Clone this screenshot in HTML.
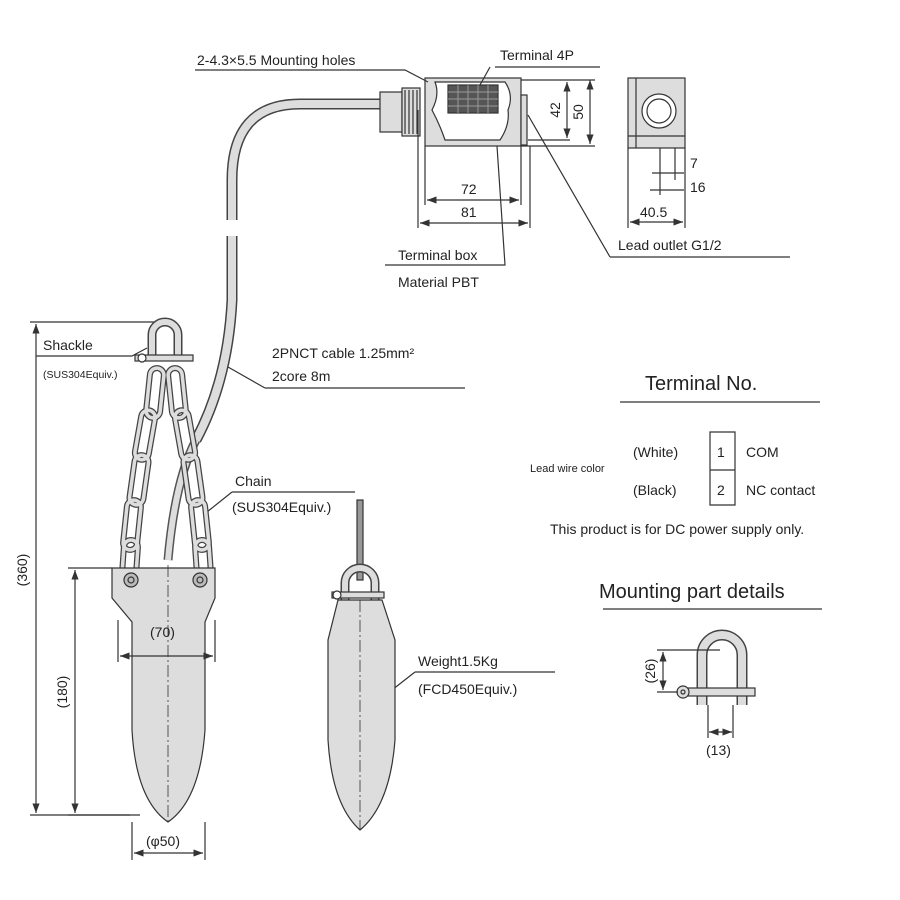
<!DOCTYPE html>
<html><head><meta charset="utf-8"><style>
html,body{margin:0;padding:0;background:#fff}
svg{display:block}
text{font-family:"Liberation Sans",sans-serif;fill:#222}
</style></head><body>
<svg width="900" height="900" viewBox="0 0 900 900" xmlns="http://www.w3.org/2000/svg">
<defs>
<marker id="a" markerWidth="8" markerHeight="6" refX="8" refY="3" orient="auto-start-reverse"><path d="M0,0 L8,3 L0,6 z" fill="#333"/></marker>
<g id="links">
<rect x="148" y="368" width="14" height="50" rx="7" transform="rotate(6 155 393)"/>
<rect x="170" y="368" width="14" height="50" rx="7" transform="rotate(-6 177 393)"/>
<rect x="138" y="410" width="14" height="50" rx="7" transform="rotate(10 145 435)"/>
<rect x="178" y="410" width="14" height="50" rx="7" transform="rotate(-10 185 435)"/>
<rect x="132" y="455" width="14" height="50" rx="7" transform="rotate(8 139 480)"/>
<rect x="186" y="455" width="14" height="50" rx="7" transform="rotate(-8 193 480)"/>
<rect x="125" y="500" width="14" height="50" rx="7" transform="rotate(6 132 525)"/>
<rect x="193" y="500" width="14" height="50" rx="7" transform="rotate(-6 200 525)"/>
<rect x="123" y="540" width="14" height="40" rx="7" transform="rotate(4 130 560)"/>
<rect x="196" y="540" width="14" height="40" rx="7" transform="rotate(-4 203 560)"/>
</g>
</defs>
<g stroke="#333" stroke-width="1.2" fill="none">
<!-- cable -->
<path d="M382,104 L300,104 Q232,104 232,180 L232,220" stroke-width="11" stroke="#444"/>
<path d="M382,104 L300,104 Q232,104 232,180 L232,220" stroke-width="8" stroke="#ddd"/>
<path d="M232,236 L232,300 Q228,380 196,440" stroke-width="11" stroke="#444"/>
<path d="M232,236 L232,300 Q228,380 196,440" stroke-width="8" stroke="#ddd"/>
<path d="M196,440 Q175,480 168,560" stroke-width="9" stroke="#555"/>
<path d="M196,440 Q175,480 168,560" stroke-width="6" stroke="#ddd"/>
<!-- gland -->
<rect x="380" y="92" width="22" height="40" fill="#ddd"/>
<rect x="402" y="88" width="18" height="48" fill="#ddd"/>
<path d="M405,90 v44 M409,90 v44 M413,90 v44 M417,90 v44"/>
<!-- terminal box -->
<rect x="425" y="78" width="96" height="68" fill="#ddd"/>
<path d="M435,82 Q440,95 432,110 Q440,125 445,140 L500,140 Q510,125 508,110 Q514,95 505,82 z" fill="#fff"/>
<rect x="448" y="85" width="50" height="28" fill="#555"/>
<path d="M448,92h50M448,99h50M448,106h50M458,85v28M468,85v28M478,85v28M488,85v28" stroke="#999" stroke-width="1"/>
<rect x="521" y="95" width="6" height="50" fill="#ddd"/>
<!-- dims -->
<path d="M521,80H595M528,140H570M521,146H595"/>
<line x1="567" y1="82" x2="567" y2="138" marker-start="url(#a)" marker-end="url(#a)"/>
<line x1="590" y1="80" x2="590" y2="144" marker-start="url(#a)" marker-end="url(#a)"/>
<path d="M425,146V205M521,146V205M418,110V228M530,146V228"/>
<line x1="427" y1="200" x2="519" y2="200" marker-start="url(#a)" marker-end="url(#a)"/>
<line x1="420" y1="223" x2="528" y2="223" marker-start="url(#a)" marker-end="url(#a)"/>
<!-- side view -->
<rect x="628" y="78" width="57" height="70" fill="#ddd"/>
<line x1="636" y1="78" x2="636" y2="148"/>
<line x1="628" y1="136" x2="685" y2="136"/>
<circle cx="659" cy="111" r="17" fill="#fff"/>
<circle cx="659" cy="111" r="12"/>
<path d="M628,148V228M685,148V228M660,148V195M675,148V180M652,173H684M650,190H684"/>
<line x1="630" y1="222" x2="683" y2="222" marker-start="url(#a)" marker-end="url(#a)"/>
<!-- leaders -->
<path d="M195,70H405L428,82M495,67H600M490,67L480,85M385,265H505L497,146M610,257H790M610,257L528,115"/>
<path d="M36,356H132L147,348M265,388H465M265,388L228,367M232,492H355M232,492L207,512M415,672H555M415,672L383,697"/>
<!-- 360 dim -->
<path d="M30,322H162M30,815H140"/>
<line x1="36" y1="324" x2="36" y2="813" marker-start="url(#a)" marker-end="url(#a)"/>
<!-- shackle -->
<path d="M152,360V335A13,13 0 0 1 178,335V360" stroke-width="9" stroke="#444"/>
<path d="M152,360V335A13,13 0 0 1 178,335V360" stroke-width="6" stroke="#ddd"/>
<rect x="135" y="355" width="58" height="6" fill="#ddd"/>
<circle cx="142" cy="358" r="4" fill="#fff"/>
<!-- chains -->
<use href="#links" stroke="#444" stroke-width="6"/>
<use href="#links" stroke="#ddd" stroke-width="3.5"/>
<!-- weight 1 -->
<path d="M112,568H215V598L205,622V730Q200,800 168,822Q136,800 132,730V622L112,598Z" fill="#ddd"/>
<line x1="168" y1="565" x2="168" y2="822" stroke-dasharray="12,3,2,3" stroke-width="0.8"/>
<circle cx="131" cy="580" r="7" fill="#bbb"/><circle cx="131" cy="580" r="3"/>
<circle cx="200" cy="580" r="7" fill="#bbb"/><circle cx="200" cy="580" r="3"/>
<path d="M68,568H112M68,815H130M118,620V662M215,620V662M132,822V860M205,822V860"/>
<line x1="120" y1="656" x2="213" y2="656" marker-start="url(#a)" marker-end="url(#a)"/>
<line x1="75" y1="570" x2="75" y2="813" marker-start="url(#a)" marker-end="url(#a)"/>
<line x1="134" y1="853" x2="203" y2="853" marker-start="url(#a)" marker-end="url(#a)"/>
<!-- weight 2 -->
<rect x="357" y="500" width="6" height="80" fill="#999"/>
<path d="M345,600V583A15,15 0 0 1 375,583V600" stroke-width="9" stroke="#444"/>
<path d="M345,600V583A15,15 0 0 1 375,583V600" stroke-width="6" stroke="#ddd"/>
<rect x="332" y="592" width="52" height="6" fill="#ddd"/>
<circle cx="337" cy="595" r="4" fill="#fff"/>
<path d="M338,600H382L395,640V740Q390,805 360,830Q332,805 328,740V640Z" fill="#ddd"/>
<line x1="360" y1="600" x2="360" y2="830" stroke-dasharray="12,3,2,3" stroke-width="0.8"/>
<!-- table -->
<path d="M620,402H820M710,432H735V505H710ZM710,470H735"/>
<path d="M603,609H822"/>
<!-- small shackle -->
<path d="M702,705V655A20,20 0 0 1 742,655V705" stroke-width="11" stroke="#444"/>
<path d="M702,705V655A20,20 0 0 1 742,655V705" stroke-width="8" stroke="#ddd"/>
<rect x="680" y="688" width="75" height="8" fill="#ddd"/>
<circle cx="683" cy="692" r="6" fill="#ddd"/><circle cx="683" cy="692" r="2"/>
<path d="M657,650H720M657,692H678M708,705V738M733,705V738"/>
<line x1="663" y1="652" x2="663" y2="690" marker-start="url(#a)" marker-end="url(#a)"/>
<line x1="709" y1="732" x2="732" y2="732" marker-start="url(#a)" marker-end="url(#a)"/>
</g>
<g font-size="14">
<text x="197" y="65">2-4.3×5.5 Mounting holes</text>
<text x="500" y="60">Terminal 4P</text>
<text x="461" y="194">72</text>
<text x="461" y="217">81</text>
<text transform="translate(560,110) rotate(-90)" text-anchor="middle">42</text>
<text transform="translate(583,112) rotate(-90)" text-anchor="middle">50</text>
<text x="690" y="168">7</text>
<text x="690" y="192">16</text>
<text x="640" y="217">40.5</text>
<text x="398" y="260">Terminal box</text>
<text x="398" y="287">Material PBT</text>
<text x="618" y="250">Lead outlet G1/2</text>
<text x="43" y="350">Shackle</text>
<text x="43" y="378" font-size="10.5">(SUS304Equiv.)</text>
<text x="272" y="358">2PNCT cable 1.25mm²</text>
<text x="272" y="381">2core 8m</text>
<text x="235" y="486">Chain</text>
<text x="232" y="512">(SUS304Equiv.)</text>
<text x="150" y="637">(70)</text>
<text transform="translate(67,692) rotate(-90)" text-anchor="middle">(180)</text>
<text transform="translate(27,570) rotate(-90)" text-anchor="middle">(360)</text>
<text x="146" y="846">(φ50)</text>
<text x="418" y="666">Weight1.5Kg</text>
<text x="418" y="694">(FCD450Equiv.)</text>
<text x="645" y="390" font-size="20">Terminal No.</text>
<text x="530" y="472" font-size="11">Lead wire color</text>
<text x="633" y="457">(White)</text>
<text x="633" y="495">(Black)</text>
<text x="717" y="457">1</text>
<text x="717" y="495">2</text>
<text x="746" y="457">COM</text>
<text x="746" y="495">NC contact</text>
<text x="550" y="534">This product is for DC power supply only.</text>
<text x="599" y="598" font-size="20">Mounting part details</text>
<text transform="translate(655,671) rotate(-90)" text-anchor="middle">(26)</text>
<text x="706" y="755">(13)</text>
</g>
</svg>
</body></html>
